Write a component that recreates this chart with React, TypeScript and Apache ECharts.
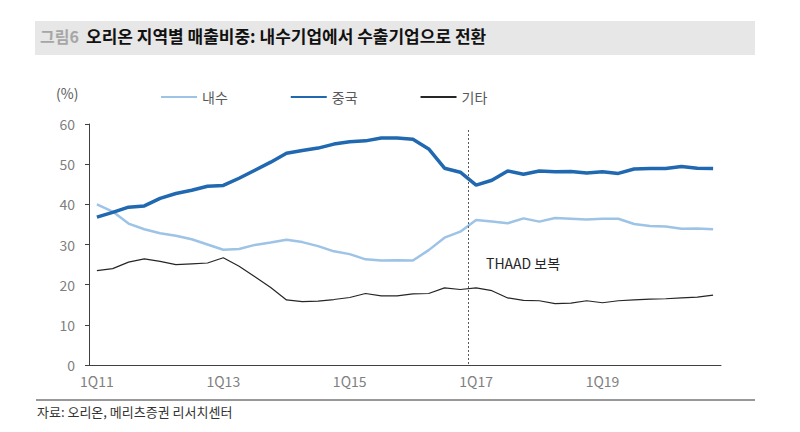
import React, { useEffect, useRef } from 'react';
import * as echarts from 'echarts';

// 분기 (1Q11 ~ 4Q20)
const quarters = [
  '1Q11', '2Q11', '3Q11', '4Q11', '1Q12', '2Q12', '3Q12', '4Q12',
  '1Q13', '2Q13', '3Q13', '4Q13', '1Q14', '2Q14', '3Q14', '4Q14',
  '1Q15', '2Q15', '3Q15', '4Q15', '1Q16', '2Q16', '3Q16', '4Q16',
  '1Q17', '2Q17', '3Q17', '4Q17', '1Q18', '2Q18', '3Q18', '4Q18',
  '1Q19', '2Q19', '3Q19', '4Q19', '1Q20', '2Q20', '3Q20', '4Q20',
];

const domestic = [
  40.0, 38.2, 35.2, 33.8, 32.8, 32.2, 31.3, 30.0,
  28.7, 28.9, 29.9, 30.5, 31.2, 30.6, 29.6, 28.3,
  27.6, 26.3, 26.0, 26.1, 26.0, 28.6, 31.7, 33.2,
  36.1, 35.7, 35.3, 36.5, 35.7, 36.6, 36.4, 36.2,
  36.4, 36.4, 35.1, 34.6, 34.5, 33.9, 34.0, 33.8,
];

const china = [
  36.8, 38.0, 39.3, 39.6, 41.5, 42.7, 43.5, 44.5,
  44.7, 46.5, 48.5, 50.5, 52.7, 53.4, 54.0, 55.0,
  55.6, 55.8, 56.5, 56.5, 56.2, 53.8, 49.0, 48.0,
  44.8, 46.0, 48.3, 47.5, 48.3, 48.1, 48.2, 47.8,
  48.1, 47.7, 48.8, 48.9, 48.9, 49.4, 49.0, 48.9,
];

const others = [
  23.5, 24.0, 25.6, 26.4, 25.8, 25.0, 25.2, 25.4,
  26.7, 24.6, 22.0, 19.3, 16.2, 15.8, 15.9, 16.3,
  16.8, 17.8, 17.2, 17.2, 17.7, 17.8, 19.2, 18.8,
  19.2, 18.5, 16.7, 16.1, 16.0, 15.3, 15.4, 16.0,
  15.5, 16.0, 16.2, 16.4, 16.5, 16.7, 16.9, 17.4,
];

const seriesNames = ['내수', '중국', '기타'];
const thaadIndex = 24; // 1Q17 시작 경계

const FONT = '"Noto Sans CJK KR", "Noto Sans", sans-serif';

const App = () => {
  const chartRef = useRef<any>(null);

  useEffect(() => {
    const chart = echarts.init(chartRef.current, null, { renderer: 'svg' });

    const option: any = {
      animation: false,
      textStyle: { fontFamily: FONT },
      grid: { left: 89, right: 79, top: 124, bottom: 67 },
      legend: {
        data: seriesNames,
        left: 160,
        top: 90,
        padding: 0,
        itemWidth: 36,
        itemHeight: 14,
        itemGap: 62,
        itemStyle: { opacity: 0 },
        textStyle: { color: '#595959', fontSize: 14, fontFamily: FONT },
      },
      xAxis: [
        {
          type: 'category',
          data: quarters,
          boundaryGap: true,
          axisLine: { lineStyle: { color: '#404040', width: 1 } },
          axisTick: { interval: 7, length: 5, lineStyle: { color: '#404040' } },
          axisLabel: { interval: 7, color: '#7f7f7f', fontSize: 14, margin: 9, fontFamily: FONT },
        },
        {
          // 보조 축: THAAD 구분선 위치용
          type: 'value',
          min: 0,
          max: quarters.length,
          show: false,
        },
      ],
      yAxis: {
        type: 'value',
        min: 0,
        max: 60,
        interval: 10,
        splitLine: { show: false },
        axisLine: { show: true, lineStyle: { color: '#404040', width: 1 } },
        axisTick: { show: true, length: 4, lineStyle: { color: '#404040' } },
        axisLabel: { color: '#7f7f7f', fontSize: 14, margin: 14, fontFamily: FONT },
      },
      series: [
        {
          name: '내수',
          type: 'line',
          data: domestic,
          symbol: 'none',
          lineStyle: { color: '#9DC3E6', width: 2.5 },
          itemStyle: { color: '#9DC3E6' },
        },
        {
          name: '중국',
          type: 'line',
          data: china,
          symbol: 'none',
          lineStyle: { color: '#2068B0', width: 3.5 },
          itemStyle: { color: '#2068B0' },
        },
        {
          name: '기타',
          type: 'line',
          data: others,
          symbol: 'none',
          lineStyle: { color: '#262626', width: 1.2 },
          itemStyle: { color: '#262626' },
        },
        {
          type: 'line',
          xAxisIndex: 1,
          data: [],
          silent: true,
          markLine: {
            silent: true,
            symbol: ['none', 'none'],
            label: { show: false },
            lineStyle: { color: '#595959', width: 1, type: [2, 2] },
            data: [[{ coord: [thaadIndex, 58.5] }, { coord: [thaadIndex, 0] }]],
          },
        },
      ],
      graphic: [
        {
          type: 'rect',
          left: 35,
          top: 21,
          shape: { width: 720, height: 34 },
          style: { fill: '#e7e7e7' },
        },
        {
          type: 'text',
          left: 40,
          top: 28,
          style: { text: '그림6', fill: '#a6a6a6', font: `bold 16px ${FONT}` },
        },
        {
          type: 'text',
          left: 86,
          top: 27,
          style: {
            text: '오리온 지역별 매출비중: 내수기업에서 수출기업으로 전환',
            fill: '#111111',
            font: `bold 17px ${FONT}`,
          },
        },
        {
          type: 'text',
          left: 56,
          top: 86,
          style: { text: '(%)', fill: '#595959', font: `14px ${FONT}` },
        },
        {
          type: 'text',
          left: 486,
          top: 256,
          style: { text: 'THAAD 보복', fill: '#262626', font: `14px ${FONT}` },
        },
        {
          type: 'line',
          shape: { x1: 36, y1: 400, x2: 755, y2: 400 },
          style: { stroke: '#333333', lineWidth: 1 },
        },
        {
          type: 'text',
          left: 37,
          top: 405,
          style: { text: '자료: 오리온, 메리츠증권 리서치센터', fill: '#333333', font: `13px ${FONT}` },
        },
      ],
    };

    chart.setOption(option);

    return () => {
      chart.dispose();
    };
  }, []);

  return (
    <div
      ref={chartRef}
      style={{ position: 'fixed', left: 0, top: 0, width: '800px', height: '432px', background: '#fff' }}
    />
  );
};

export default App;
